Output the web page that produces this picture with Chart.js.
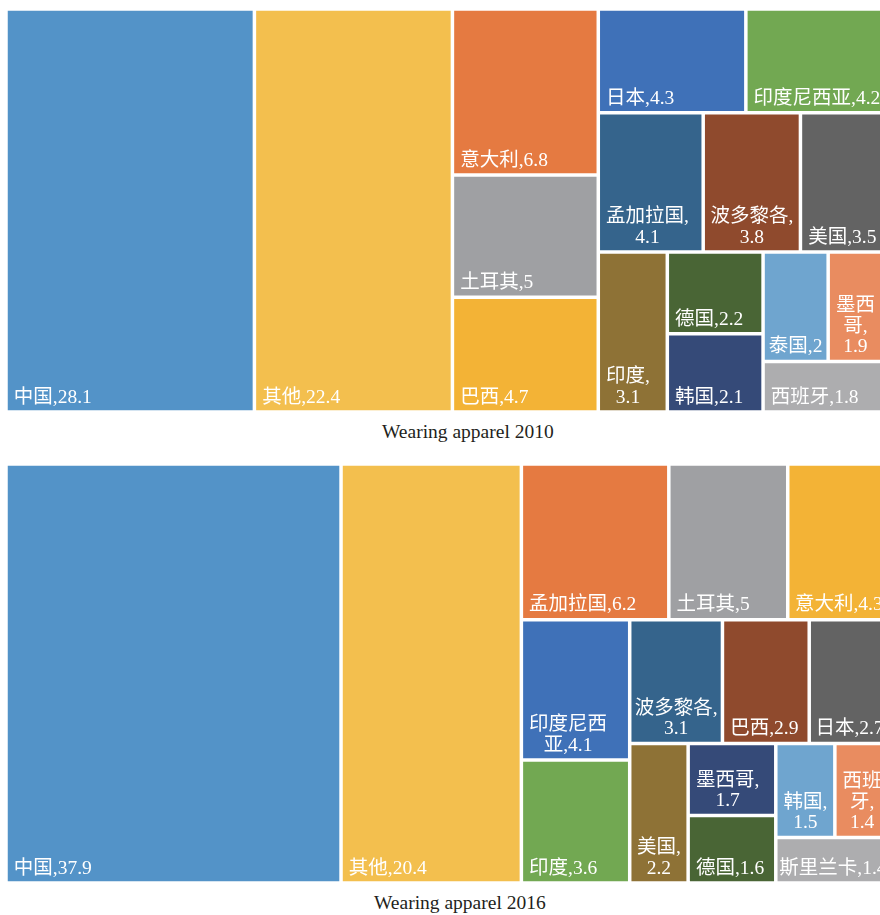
<!DOCTYPE html>
<html>
<head>
<meta charset="utf-8">
<script src="https://cdn.jsdelivr.net/npm/chart.js@4.4.1/dist/chart.umd.min.js"></script>
<style>
  html, body { margin: 0; padding: 0; background: #ffffff; }
  #wrap { position: relative; width: 880px; height: 915px; overflow: hidden; }
  #wrap canvas { position: absolute; }
  .cap { position: absolute; font-family: "Liberation Serif", "Times New Roman", serif; font-size: 19.5px;
         line-height: 19.5px; color: #231f20; white-space: nowrap; }
</style>
</head>
<body>
<div id="wrap">
  <canvas id="c2010" width="884" height="403" style="left:6px;top:9px"></canvas>
  <div class="cap" style="left:382px;top:421.5px">Wearing apparel 2010</div>
  <canvas id="c2016" width="884" height="419" style="left:6px;top:464px"></canvas>
  <div class="cap" style="left:374px;top:893px">Wearing apparel 2016</div>
</div>
<script>
// ---------------- data ----------------
const categories2010 = ['中国','其他','意大利','土耳其','巴西','日本','印度尼西亚','孟加拉国','波多黎各','美国','印度','德国','韩国','泰国','墨西哥','西班牙'];
const shares2010     = [28.1, 22.4, 6.8, 5, 4.7, 4.3, 4.2, 4.1, 3.8, 3.5, 3.1, 2.2, 2.1, 2, 1.9, 1.8];

const categories2016 = ['中国','其他','孟加拉国','土耳其','意大利','印度尼西亚','印度','波多黎各','巴西','日本','美国','墨西哥','德国','韩国','西班牙','斯里兰卡'];
const shares2016     = [37.9, 20.4, 6.2, 5, 4.3, 4.1, 3.6, 3.1, 2.9, 2.7, 2.2, 1.7, 1.6, 1.5, 1.4, 1.4];

// ---------------- styles ----------------
const colors2010 = ['#5393C8','#F3BF4E','#E57A41','#9FA0A3','#F3B336','#3F71B8','#72A852','#35648C',
                    '#8F4A2D','#636363','#8E7236','#496535','#354A78','#6FA5CF','#E98C60','#ADADAF'];
const colors2016 = ['#5393C8','#F3BF4E','#E57A41','#9FA0A3','#F3B336','#3F71B8','#72A852','#35648C',
                    '#8F4A2D','#636363','#8E7236','#354A78','#496535','#6FA5CF','#E98C60','#ADADAF'];
const LABEL_FONT = '19.5px "Liberation Serif", "Noto Sans CJK SC", serif';

// ---------------- squarified layout (in data units, aspect judged in pixels) ----------------
const PHI = (1 + Math.sqrt(5)) / 2;
function squarify(values, x0, y0, w0, h0, sx, sy) {
  const cells = new Array(values.length);
  let rx = x0, ry = y0, rw = w0, rh = h0;
  let rest = values.reduce((a, b) => a + b, 0);
  let i = 0;
  while (i < values.length) {
    const pw = rw * sx, ph = rh * sy;
    const column = pw >= ph;                 // strip runs along the shorter side
    const side = Math.min(pw, ph), other = Math.max(pw, ph);
    const pxPerValue = pw * ph / rest;
    const worst = (sum, lo, hi) => {
      const t = sum * pxPerValue / side;
      const lMax = hi * pxPerValue / t, lMin = lo * pxPerValue / t;
      return Math.max(lMax / t, t / lMax, lMin / t, t / lMin);
    };
    let j = i + 1, sum = values[i], lo = values[i], hi = values[i];
    if (other / side <= PHI) {               // elongated areas take a single item
      let best = worst(sum, lo, hi);
      while (j < values.length) {
        const v = values[j];
        const s2 = sum + v, lo2 = Math.min(lo, v), hi2 = Math.max(hi, v);
        const w2 = worst(s2, lo2, hi2);
        if (w2 > best) break;
        best = w2; sum = s2; lo = lo2; hi = hi2; j++;
      }
    }
    const frac = j >= values.length ? 1 : sum / rest;
    if (column) {
      const tw = rw * frac; let yy = ry;
      for (let k = i; k < j; k++) { const hh = rh * values[k] / sum; cells[k] = {x: rx, y: yy, w: tw, h: hh}; yy += hh; }
      rx += tw; rw -= tw;
    } else {
      const th = rh * frac; let xx = rx;
      for (let k = i; k < j; k++) { const ww = rw * values[k] / sum; cells[k] = {x: xx, y: ry, w: ww, h: th}; xx += ww; }
      ry += th; rh -= th;
    }
    rest -= sum; i = j;
  }
  return cells;
}

// ---------------- Chart.js treemap controller (uses the library's BarElement) ----------------
class TreemapController extends Chart.DatasetController {
  update(mode) {
    const meta = this._cachedMeta;
    this.updateElements(meta.data, 0, meta.data.length, mode);
  }
  updateElements(rects, start, count, mode) {
    const meta = this._cachedMeta;
    const xs = meta.xScale, ys = meta.yScale;
    const values = this.getDataset().data;
    const px0 = xs.getPixelForValue(xs.min), px1 = xs.getPixelForValue(xs.max);
    const py0 = ys.getPixelForValue(ys.min), py1 = ys.getPixelForValue(ys.max);
    if (![px0, px1, py0, py1].every(Number.isFinite) || px1 === px0 || py1 === py0) return;
    const sx = Math.abs(px1 - px0) / (xs.max - xs.min);
    const sy = Math.abs(py1 - py0) / (ys.max - ys.min);
    const cells = squarify(values, xs.min, ys.min, xs.max - xs.min, ys.max - ys.min, sx, sy);
    for (let i = start; i < start + count; i++) {
      const c = cells[i];
      const l = xs.getPixelForValue(c.x), r = xs.getPixelForValue(c.x + c.w);
      const t = ys.getPixelForValue(c.y), b = ys.getPixelForValue(c.y + c.h);
      this.updateElement(rects[i], i, {
        x: (l + r) / 2, width: Math.abs(r - l),
        y: Math.min(t, b), base: Math.max(t, b), height: Math.abs(b - t),
        horizontal: false, borderSkipped: {}, inflateAmount: 0,
        options: this.resolveDataElementOptions(i, mode)
      }, mode);
    }
  }
}
TreemapController.id = 'treemapx';
TreemapController.defaults = { datasetElementType: false, dataElementType: 'bar' };
Chart.register(TreemapController);

// ---------------- labels ----------------
function wrapLabel(ctx, name, value, fillW) {
  const valStr = String(value);
  const full = name + ',' + valStr;
  if (ctx.measureText(full).width <= fillW - 2) return [full];
  const chars = Array.from(name);
  const tokens = chars.slice(0, -1).concat([chars[chars.length - 1] + ',']);
  const lines = [];
  let cur = '';
  for (const t of tokens) {
    if (cur && ctx.measureText(cur + t).width > fillW - 6) { lines.push(cur); cur = t; }
    else cur += t;
  }
  if (ctx.measureText(cur + valStr).width <= fillW - 14) { lines.push(cur + valStr); }
  else { lines.push(cur); lines.push(valStr); }
  return lines;
}

const labelPlugin = {
  id: 'cellLabels',
  afterDatasetsDraw(chart, args, opts) {
    const ctx = chart.ctx;
    const meta = chart.getDatasetMeta(0);
    const ds = chart.data.datasets[0];
    const bw = ds.borderWidth;
    ctx.save();
    ctx.font = LABEL_FONT;
    ctx.fillStyle = '#ffffff';
    ctx.textBaseline = 'alphabetic';
    ctx.textAlign = 'center';
    meta.data.forEach((el, i) => {
      const p = el.getProps(['x', 'y', 'base', 'width'], true);
      const left = p.x - p.width / 2 + bw;
      const fillW = p.width - 2 * bw;
      const bottom = Math.max(p.y, p.base) - bw;
      const lines = wrapLabel(ctx, opts.names[i], ds.data[i], fillW);
      const blockW = Math.max(...lines.map(l => ctx.measureText(l).width));
      const x0 = left + Math.min(6, Math.max(0, (fillW - blockW) / 2));
      const cx = x0 + blockW / 2;
      lines.forEach((ln, k) => {
        ctx.fillText(ln, cx, bottom - 7.5 - (lines.length - 1 - k) * 20.5);
      });
    });
    ctx.restore();
  }
};

function makeTreemap(id, shares, colors, names) {
  return new Chart(document.getElementById(id), {
    type: 'treemapx',
    data: { datasets: [{ data: shares, backgroundColor: colors, borderColor: '#ffffff', borderWidth: 1.75 }] },
    options: {
      responsive: false,
      animation: false,
      events: [],
      layout: { padding: 0 },
      scales: {
        x: { type: 'linear', min: 0, max: 100, display: false },
        y: { type: 'linear', min: 0, max: 100, reverse: true, display: false }
      },
      plugins: {
        legend: { display: false },
        tooltip: { enabled: false },
        title: { display: false },
        cellLabels: { names: names }
      }
    },
    plugins: [labelPlugin]
  });
}

makeTreemap('c2010', shares2010, colors2010, categories2010);
makeTreemap('c2016', shares2016, colors2016, categories2016);
</script>
</body>
</html>
